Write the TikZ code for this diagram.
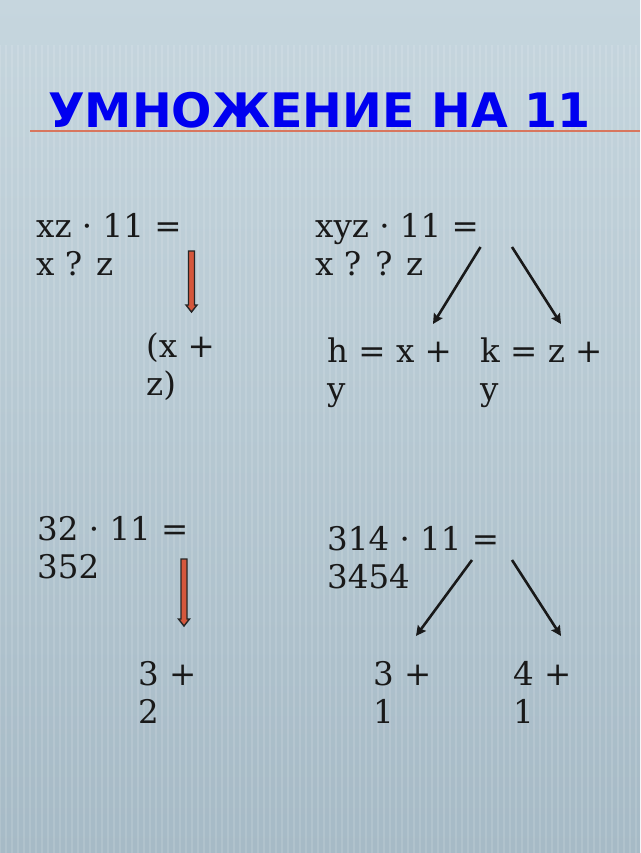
\documentclass[tikz,border=0pt]{standalone}
\usepackage{fontspec}
\setmainfont{DejaVu Serif}
\newfontfamily\titlefont{DejaVu Sans}
\usetikzlibrary{arrows.meta}
\definecolor{bgtop}{HTML}{C6D6DE}
\definecolor{bgbot}{HTML}{A6BAC6}
\definecolor{titleblue}{HTML}{0000F0}
\definecolor{rule}{HTML}{D8765E}
\definecolor{blockred}{HTML}{D5573C}
\tikzset{
  txt/.style={anchor=base west, align=left, inner sep=0pt,
    font=\fontsize{32.5}{38}\selectfont, text=black!90},
  blackarrow/.style={draw=black!90, line width=2.6pt, -{Stealth[length=10pt,width=10pt,inset=1.5pt]}},
  redarrow/.style={fill=blockred, draw=black!85, line width=1.4pt, line join=miter},
}
\begin{document}
\begin{tikzpicture}[x=1pt,y=-1pt]
\useasboundingbox (0,0) rectangle (640,853);
% background
\shade[top color=bgtop, bottom color=bgbot] (0,0) rectangle (640,853);
\foreach \i in {0,6,...,640} {
  \draw[white, opacity=0.12, line width=1.5pt] (\i,45) -- (\i,853);
}
% title
\node[anchor=base west, inner sep=0pt, text=titleblue,
  font=\titlefont\bfseries\fontsize{47.5}{47.5}\selectfont] (title) at (48,128) {УМНОЖЕНИЕ НА 11};
\draw[rule, line width=2pt] (30,131) -- (640,131);

% top left (base anchor = last line)
\node[txt] (a1) at (36,275) {xz · 11 =\\x ? z};
\node[txt] (a2) at (146,395) {(x +\\z)};
\draw[redarrow] (188.5,251) -- (194.5,251) -- (194.5,305) -- (197,305) -- (191.5,312) -- (186,305) -- (188.5,305) -- cycle;

% top right
\node[txt] (b1) at (315,275) {xyz · 11 =\\x ? ? z};
\node[txt] (b2) at (327,400) {h = x +\\y};
\node[txt] (b3) at (480,400) {k = z +\\y};
\coordinate (b1l) at (480.5,247);
\coordinate (b2t) at (433,324);
\coordinate (b1r) at (512,247);
\coordinate (b3t) at (561,324);
\draw[blackarrow] (b1l) -- (b2t);
\draw[blackarrow] (b1r) -- (b3t);

% bottom left
\node[txt] (c1) at (37,578) {32 · 11 =\\352};
\node[txt] (c2) at (138,723) {3 +\\2};
\draw[redarrow] (181,559) -- (187,559) -- (187,619) -- (189.5,619) -- (184,626) -- (178.5,619) -- (181,619) -- cycle;

% bottom right
\node[txt] (d1) at (327,588) {314 · 11 =\\3454};
\node[txt] (d2) at (373,723) {3 +\\1};
\node[txt] (d3) at (513,723) {4 +\\1};
\coordinate (d1l) at (472,560);
\coordinate (d2t) at (416,636);
\coordinate (d1r) at (512,560);
\coordinate (d3t) at (561,636);
\draw[blackarrow] (d1l) -- (d2t);
\draw[blackarrow] (d1r) -- (d3t);
\end{tikzpicture}
\end{document}
